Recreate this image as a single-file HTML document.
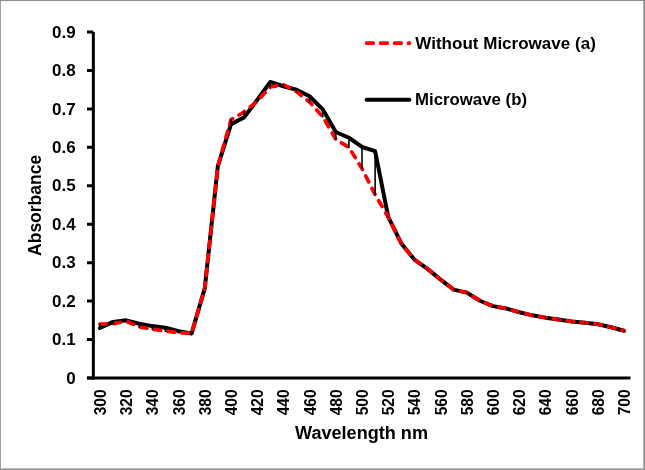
<!DOCTYPE html>
<html><head><meta charset="utf-8"><style>
html,body{margin:0;padding:0;background:#fff;}
.wrap{position:relative;width:645px;height:470px;overflow:hidden;background:#fff;}
.b{position:absolute;}
svg{position:absolute;left:0;top:0;will-change:transform;}
</style></head><body><div class="wrap">
<svg width="645" height="470" viewBox="0 0 645 470">
<path d="M93.35 32V379.6" stroke="#000" stroke-width="3" fill="none"/>
<path d="M87 378.00H93.35M87 339.56H93.35M87 301.12H93.35M87 262.68H93.35M87 224.24H93.35M87 185.80H93.35M87 147.36H93.35M87 108.92H93.35M87 70.48H93.35M87 32.04H93.35" stroke="#000" stroke-width="3" fill="none"/>
<path d="M87 378.0H630.5" stroke="#000" stroke-width="3.2" fill="none"/>
<polyline points="99.90,328.03 113.01,321.88 126.11,320.34 139.22,323.80 152.32,326.11 165.43,327.64 178.53,331.10 191.64,333.41 204.74,288.43 217.85,166.20 230.95,124.30 244.06,117.38 257.16,100.08 270.27,82.01 283.37,86.24 296.48,89.70 309.58,96.23 322.69,109.30 335.79,131.98 348.90,137.75 362.00,146.98 375.11,151.20 388.21,216.94 401.32,243.46 414.42,259.60 427.53,268.83 440.63,279.59 453.74,289.59 466.84,292.66 479.95,300.74 493.05,306.12 506.16,308.42 519.26,312.27 532.37,315.34 545.47,317.65 558.58,319.57 571.68,321.49 584.79,322.65 597.89,324.18 611.00,327.26 624.10,330.72" stroke="#000" stroke-width="4" fill="none" stroke-linejoin="round" stroke-linecap="round"/>
<polyline points="99.90,324.18 113.01,323.80 126.11,321.11 139.22,326.87 152.32,329.18 165.43,331.10 178.53,332.64 191.64,333.41 204.74,288.43 217.85,166.20 230.95,119.68 244.06,112.00 257.16,101.23 270.27,87.01 283.37,84.70 296.48,91.62 309.58,102.00 322.69,116.61 335.79,139.29 348.90,147.36 362.00,168.50 375.11,194.64 388.21,216.94 401.32,243.46 414.42,259.60 427.53,268.83 440.63,279.59 453.74,289.59 466.84,292.66 479.95,300.74 493.05,306.12 506.16,308.42 519.26,312.27 532.37,315.34 545.47,317.65 558.58,319.57 571.68,321.49 584.79,322.65 597.89,324.18 611.00,327.26 624.10,330.72" stroke="#ff0000" stroke-width="3.7" fill="none" stroke-linejoin="round" stroke-linecap="round" stroke-dasharray="6.7 7.26"/>
<path d="M99.90 324.18V328.03M113.01 321.88V323.80M126.11 320.34V321.11M139.22 323.80V326.87M152.32 326.11V329.18M165.43 327.64V331.10M178.53 331.10V332.64M191.64 333.41V333.41M204.74 288.43V288.43M217.85 166.20V166.20M230.95 119.68V124.30M244.06 112.00V117.38M257.16 100.08V101.23M270.27 82.01V87.01M283.37 84.70V86.24M296.48 89.70V91.62M309.58 96.23V102.00M322.69 109.30V116.61M335.79 131.98V139.29M348.90 137.75V147.36M362.00 146.98V168.50M375.11 151.20V194.64M388.21 216.94V216.94M401.32 243.46V243.46M414.42 259.60V259.60M427.53 268.83V268.83M440.63 279.59V279.59M453.74 289.59V289.59M466.84 292.66V292.66M479.95 300.74V300.74M493.05 306.12V306.12M506.16 308.42V308.42M519.26 312.27V312.27M532.37 315.34V315.34M545.47 317.65V317.65M558.58 319.57V319.57M571.68 321.49V321.49M584.79 322.65V322.65M597.89 324.18V324.18M611.00 327.26V327.26M624.10 330.72V330.72" stroke="#000" stroke-width="1.6" stroke-linecap="square" fill="none"/>
<g font-family='"Liberation Sans", sans-serif' font-weight="bold" font-size="17" fill="#000"><text transform="translate(75.6,383.60)" text-anchor="end">0</text><text transform="translate(75.6,345.16)" text-anchor="end">0.1</text><text transform="translate(75.6,306.72)" text-anchor="end">0.2</text><text transform="translate(75.6,268.28)" text-anchor="end">0.3</text><text transform="translate(75.6,229.84)" text-anchor="end">0.4</text><text transform="translate(75.6,191.40)" text-anchor="end">0.5</text><text transform="translate(75.6,152.96)" text-anchor="end">0.6</text><text transform="translate(75.6,114.52)" text-anchor="end">0.7</text><text transform="translate(75.6,76.08)" text-anchor="end">0.8</text><text transform="translate(75.6,37.64)" text-anchor="end">0.9</text></g>
<g font-family='"Liberation Sans", sans-serif' font-weight="bold" font-size="15.6" fill="#000"><text transform="translate(105.90,389.3) rotate(-90)" text-anchor="end">300</text><text transform="translate(132.11,389.3) rotate(-90)" text-anchor="end">320</text><text transform="translate(158.32,389.3) rotate(-90)" text-anchor="end">340</text><text transform="translate(184.53,389.3) rotate(-90)" text-anchor="end">360</text><text transform="translate(210.74,389.3) rotate(-90)" text-anchor="end">380</text><text transform="translate(236.95,389.3) rotate(-90)" text-anchor="end">400</text><text transform="translate(263.16,389.3) rotate(-90)" text-anchor="end">420</text><text transform="translate(289.37,389.3) rotate(-90)" text-anchor="end">440</text><text transform="translate(315.58,389.3) rotate(-90)" text-anchor="end">460</text><text transform="translate(341.79,389.3) rotate(-90)" text-anchor="end">480</text><text transform="translate(368.00,389.3) rotate(-90)" text-anchor="end">500</text><text transform="translate(394.21,389.3) rotate(-90)" text-anchor="end">520</text><text transform="translate(420.42,389.3) rotate(-90)" text-anchor="end">540</text><text transform="translate(446.63,389.3) rotate(-90)" text-anchor="end">560</text><text transform="translate(472.84,389.3) rotate(-90)" text-anchor="end">580</text><text transform="translate(499.05,389.3) rotate(-90)" text-anchor="end">600</text><text transform="translate(525.26,389.3) rotate(-90)" text-anchor="end">620</text><text transform="translate(551.47,389.3) rotate(-90)" text-anchor="end">640</text><text transform="translate(577.68,389.3) rotate(-90)" text-anchor="end">660</text><text transform="translate(603.89,389.3) rotate(-90)" text-anchor="end">680</text><text transform="translate(630.10,389.3) rotate(-90)" text-anchor="end">700</text></g>
<text transform="translate(41.2,205.4) rotate(-90)" text-anchor="middle" font-family='"Liberation Sans", sans-serif' font-weight="bold" font-size="18" textLength="101" lengthAdjust="spacingAndGlyphs">Absorbance</text>
<text x="295" y="439" font-family='"Liberation Sans", sans-serif' font-weight="bold" font-size="18" textLength="133" lengthAdjust="spacingAndGlyphs">Wavelength nm</text>
<path d="M366.6 43.2H409.4" stroke="#ff0000" stroke-width="3.7" stroke-linecap="round" stroke-dasharray="6.7 7.26" fill="none"/>
<path d="M366.6 99.8H409.4" stroke="#000" stroke-width="4" stroke-linecap="round" fill="none"/>
<text x="415.3" y="48.7" font-family='"Liberation Sans", sans-serif' font-weight="bold" font-size="16.3" textLength="180.5" lengthAdjust="spacingAndGlyphs">Without Microwave (a)</text>
<text x="415.0" y="105.1" font-family='"Liberation Sans", sans-serif' font-weight="bold" font-size="16.3" textLength="112" lengthAdjust="spacingAndGlyphs">Microwave (b)</text>
</svg>
<div class="b" style="left:643px;top:1px;width:1px;height:468px;background:#b4b4b4"></div>
<div class="b" style="left:1px;top:468px;width:643px;height:1px;background:#bdbdbd"></div>
<div class="b" style="left:0;top:0;width:1px;height:470px;background:#a0a0a0"></div>
<div class="b" style="left:644px;top:0;width:1px;height:470px;background:#8f8f8f"></div>
<div class="b" style="left:0;top:469px;width:645px;height:1px;background:#919191"></div>
<div class="b" style="left:0;top:0;width:645px;height:1px;background:#8c8c8c"></div>
</div></body></html>
